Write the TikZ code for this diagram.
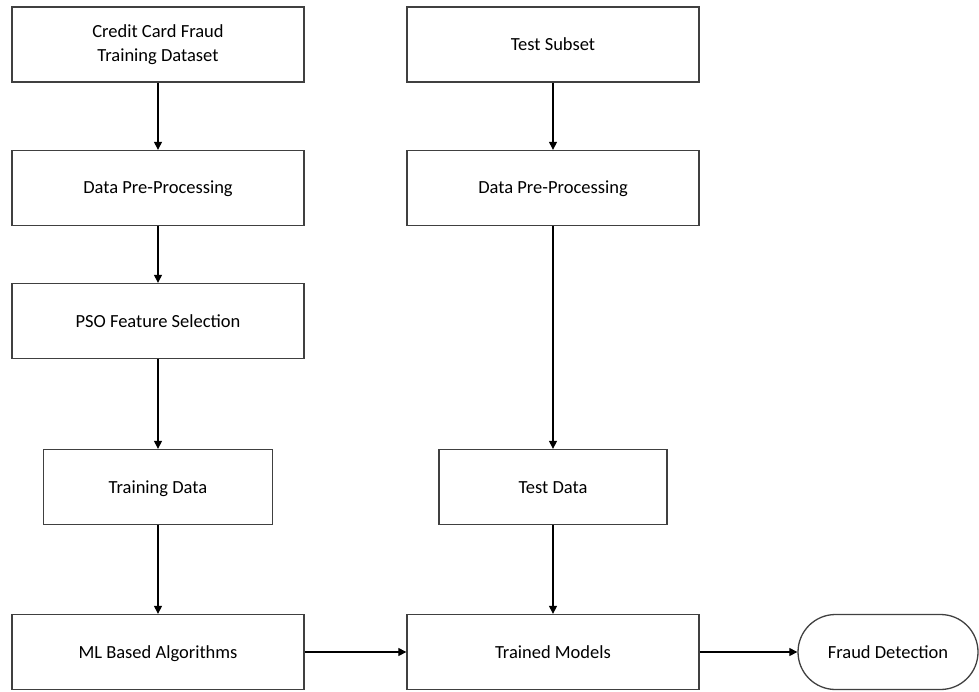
\documentclass[tikz,border=0pt]{standalone}
\usepackage{fontspec}
\setmainfont{Carlito}
\usetikzlibrary{arrows.meta,shapes.misc}
\tikzset{
  box/.style={draw=black!75, line width=1.3pt, fill=white, minimum width=292pt, minimum height=75pt, inner sep=0pt, align=center, text height=15pt, text depth=3pt, font=\fontsize{18.5}{24}\selectfont},
  twoline/.style={text height=, text depth=},
  smallbox/.style={box, minimum width=229pt},
  term/.style={box, rounded rectangle, minimum width=180pt},
  flow/.style={draw=black, line width=1.1pt, -{Triangle[length=8pt,width=8pt]}}
}
\begin{document}
\begin{tikzpicture}[x=1pt,y=-1pt]
\useasboundingbox (0,0) rectangle (979,692);
\node[box, twoline] (ccf) at (158,44.5) {Credit Card Fraud\\Training Dataset};
\node[box] (ts) at (553,44.5) {Test Subset};
\node[box] (dpl) at (158,188) {Data Pre-Processing};
\node[box] (dpr) at (553,188) {Data Pre-Processing};
\node[box] (pso) at (158,321) {PSO Feature Selection};
\node[smallbox] (trd) at (158,487) {Training Data};
\node[smallbox, minimum width=228pt] (ted) at (553,487) {Test Data};
\node[box] (ml) at (158,652) {ML Based Algorithms};
\node[box] (tm) at (553,652) {Trained Models};
\node[term] (fd) at (888,652) {Fraud Detection};
\draw[flow] (ccf) -- (dpl);
\draw[flow] (dpl) -- (pso);
\draw[flow] (pso) -- (trd);
\draw[flow] (trd) -- (ml);
\draw[flow] (ts) -- (dpr);
\draw[flow] (dpr) -- (ted);
\draw[flow] (ted) -- (tm);
\draw[flow] (ml) -- (tm);
\draw[flow] (tm) -- (fd);
\end{tikzpicture}
\end{document}
